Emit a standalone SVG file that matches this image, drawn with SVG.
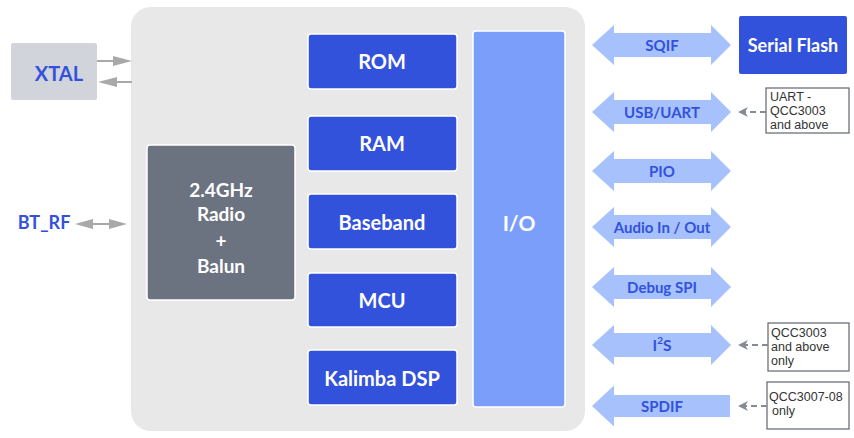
<svg xmlns="http://www.w3.org/2000/svg" width="854" height="438" viewBox="0 0 854 438">
<style>
.lbl{font-family:Lato,"Liberation Sans",sans-serif;font-weight:700;text-anchor:middle;dominant-baseline:central}
.wt{fill:#ffffff}
.bt{fill:#3352db}
.blk{fill:#3352db;stroke:#ffffff;stroke-width:1.5}
.bus{fill:#a6c1fb}
.note{fill:#ffffff;stroke:#5f6470;stroke-width:1.2}
.nt{font-family:"Liberation Sans",Arial,sans-serif;font-size:12.5px;fill:#333333}
.gl{stroke:#a9a9a9;stroke-width:2;fill:none}
.ga{fill:#a9a9a9}
.dash{stroke:#858a94;stroke-width:1.8;stroke-dasharray:6,4;fill:none}
</style>
<defs>
<path id="dbl" d="M592,0 L614,-20 L614,-12 L711,-12 L711,-20 L731,0 L711,20 L711,12 L614,12 L614,20 Z"/>
<marker id="dh" viewBox="0 0 10 10" refX="10" refY="5" markerWidth="10" markerHeight="10" markerUnits="userSpaceOnUse" orient="auto">
<path d="M0,0 L10,5 L0,10 L3,5 Z" fill="#858a94"/>
</marker>
</defs>
<rect width="854" height="438" fill="#ffffff"/>
<g id="chip"><rect x="131" y="7" width="454" height="424" rx="20" fill="#e8e8e8"/></g>
<g id="xtal"><rect x="11" y="43" width="86" height="57" rx="2" fill="#d1d4db"/><text class="lbl bt" x="59" y="73" font-size="20">XTAL</text></g>
<g id="btrf"><text class="lbl bt" x="44" y="222" font-size="18">BT_RF</text></g>
<g id="radio"><rect x="147" y="145" width="148" height="155" rx="3" fill="#6b7280" stroke="#ffffff" stroke-width="1.5"/>
<text class="lbl wt" x="221" y="189" font-size="19">2.4GHz</text>
<text class="lbl wt" x="221" y="213" font-size="19">Radio</text>
<text class="lbl wt" x="221" y="240" font-size="19">+</text>
<text class="lbl wt" x="221" y="265" font-size="19">Balun</text></g>
<g id="rom"><rect class="blk" x="308" y="34" width="149" height="55" rx="3"/><text class="lbl wt" x="382" y="61" font-size="20">ROM</text></g>
<g id="ram"><rect class="blk" x="308" y="116" width="149" height="55" rx="3"/><text class="lbl wt" x="382" y="143" font-size="20">RAM</text></g>
<g id="baseband"><rect class="blk" x="308" y="194" width="149" height="55" rx="3"/><text class="lbl wt" x="382" y="222" font-size="20">Baseband</text></g>
<g id="mcu"><rect class="blk" x="308" y="273" width="149" height="54" rx="3"/><text class="lbl wt" x="382" y="300" font-size="20">MCU</text></g>
<g id="kalimba"><rect class="blk" x="308" y="350" width="149" height="55" rx="3"/><text class="lbl wt" x="382" y="378" font-size="20">Kalimba DSP</text></g>
<g id="io"><rect x="473" y="31" width="92" height="376" rx="3" fill="#7b9efa" stroke="#ffffff" stroke-width="1.5"/><text class="lbl wt" x="519" y="222" font-size="21">I/O</text></g>
<g id="serialflash"><rect x="739" y="16" width="108" height="58" rx="2" fill="#3352db"/><text class="lbl wt" x="793" y="45" font-size="18">Serial Flash</text></g>
<g id="bus-sqif"><use href="#dbl" class="bus" transform="translate(0,45)"/><text class="lbl bt" x="662" y="45" font-size="15">SQIF</text></g>
<g id="bus-usb"><use href="#dbl" class="bus" transform="translate(0,112)"/><text class="lbl bt" x="662" y="112" font-size="15">USB/UART</text></g>
<g id="bus-pio"><use href="#dbl" class="bus" transform="translate(0,171)"/><text class="lbl bt" x="662" y="171" font-size="15">PIO</text></g>
<g id="bus-audio"><use href="#dbl" class="bus" transform="translate(0,227)"/><text class="lbl bt" x="662" y="227" font-size="15">Audio In / Out</text></g>
<g id="bus-debug"><use href="#dbl" class="bus" transform="translate(0,287)"/><text class="lbl bt" x="662" y="287" font-size="15">Debug SPI</text></g>
<g id="bus-i2s"><use href="#dbl" class="bus" transform="translate(0,345)"/><text class="lbl bt" x="662" y="345" font-size="15.5">I<tspan font-size="10" dy="-5">2</tspan><tspan dy="5">S</tspan></text></g>
<g id="bus-spdif"><path class="bus" d="M592,406 L614,385.5 L614,395 L730,395 L730,417 L614,417 L614,426.5 Z"/><text class="lbl bt" x="662" y="406" font-size="15">SPDIF</text></g>
<g id="note-usb"><rect class="note" x="766" y="88" width="83" height="45"/>
<text class="nt" x="770" y="101">UART -</text><text class="nt" x="770" y="115">QCC3003</text><text class="nt" x="770" y="129">and above</text></g>
<g id="note-i2s"><rect class="note" x="768" y="323" width="81" height="48"/>
<text class="nt" x="771" y="337">QCC3003</text><text class="nt" x="771" y="351">and above</text><text class="nt" x="771" y="365">only</text></g>
<g id="note-spdif"><rect class="note" x="767" y="382" width="82" height="47"/>
<text class="nt" x="769" y="401">QCC3007-08</text><text class="nt" x="772" y="415">only</text></g>
<g id="connectors">
<line class="gl" x1="97" y1="61" x2="115" y2="61"/><path class="ga" d="M113,56 L132,61 L113,66 Z"/>
<line class="gl" x1="115" y1="82" x2="132" y2="82"/><path class="ga" d="M117,77 L98,82 L117,87 Z"/>
<line class="gl" x1="90" y1="224" x2="112" y2="224"/><path class="ga" d="M93,219 L75,224 L93,229 Z"/><path class="ga" d="M109,219 L127,224 L109,229 Z"/>
<line class="dash" x1="766" y1="112" x2="738" y2="112" marker-end="url(#dh)"/>
<line class="dash" x1="768" y1="345" x2="738" y2="345" marker-end="url(#dh)"/>
<line class="dash" x1="767" y1="406" x2="738" y2="406" marker-end="url(#dh)"/>
</g>
</svg>
